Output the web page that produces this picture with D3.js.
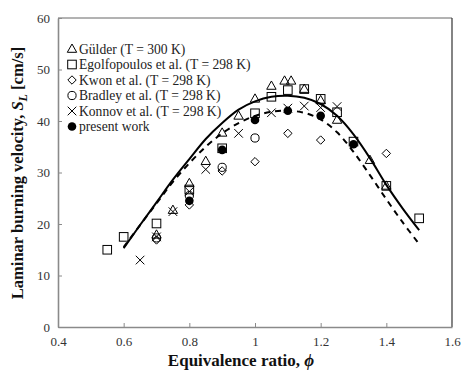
<!DOCTYPE html>
<html>
<head>
<meta charset="utf-8">
<script src="https://cdn.jsdelivr.net/npm/d3@7"></script>
<style>
  body { margin: 0; background: #fff; }
  svg { display: block; font-family: "Liberation Serif", "Times New Roman", serif; }
</style>
</head>
<body>
<svg id="chart" width="461" height="371"></svg>
<script>
// data: [phi, S_L]
var gulder = [[0.7, 17.9], [0.75, 22.7], [0.8, 27.9], [0.85, 32.2], [0.9, 37.7], [0.95, 41.0], [1.0, 44.3],
  [1.05, 46.8], [1.09, 47.8], [1.11, 47.8], [1.15, 46.2], [1.2, 44.0], [1.25, 40.2], [1.35, 32.4], [1.4, 27.4]];
var egolfopoulos = [[0.55, 15.0], [0.6, 17.5], [0.7, 20.1], [0.8, 26.7], [0.9, 34.7], [1.0, 41.5], [1.05, 44.7],
  [1.1, 46.0], [1.15, 46.2], [1.2, 44.3], [1.25, 41.7], [1.3, 36.0], [1.4, 27.4], [1.5, 21.1]];
var kwon = [[0.7, 16.9], [0.8, 23.7], [0.9, 30.3], [1.0, 32.1], [1.1, 37.6], [1.2, 36.3], [1.4, 33.7]];
var bradley = [[0.7, 17.3], [0.8, 25.5], [0.9, 31.0], [1.0, 36.7]];
var konnov = [[0.65, 13.0], [0.7, 17.5], [0.75, 22.4], [0.8, 26.3], [0.85, 30.6], [0.95, 37.6], [1.05, 41.6],
  [1.1, 42.5], [1.15, 42.9], [1.2, 42.6], [1.25, 42.8]];
var presentWork = [[0.8, 24.5], [0.9, 34.4], [1.0, 40.2], [1.1, 42.0], [1.2, 41.0], [1.3, 35.5]];

var solidCurve = [[0.6, 15.3], [0.65, 19.8], [0.7, 24.2], [0.75, 28.6], [0.8, 32.6], [0.85, 36.5], [0.9, 39.6],
  [0.95, 42.2], [1.0, 43.8], [1.05, 44.7], [1.1, 44.9], [1.15, 44.5], [1.2, 43.3], [1.25, 41.0], [1.3, 37.4],
  [1.35, 32.8], [1.4, 27.6], [1.45, 23.0], [1.5, 18.8]];
var dashedCurve = [[0.6, 15.5], [0.65, 19.8], [0.7, 24.0], [0.75, 28.2], [0.8, 31.8], [0.85, 35.0], [0.9, 37.6],
  [0.95, 39.6], [1.0, 41.0], [1.05, 41.8], [1.1, 42.0], [1.15, 41.6], [1.2, 40.3], [1.25, 37.8], [1.3, 34.0],
  [1.35, 29.5], [1.4, 24.8], [1.45, 20.3], [1.5, 16.1]];

var xTicks = [0.4, 0.6, 0.8, 1, 1.2, 1.4, 1.6];
var yTicks = [0, 10, 20, 30, 40, 50, 60];

var legendLabels = ['Gülder (T = 300 K)', 'Egolfopoulos et al. (T = 298 K)', 'Kwon et al. (T = 298 K)',
  'Bradley et al. (T = 298 K)', 'Konnov et al. (T = 298 K)', 'present work'];

(function () {
  var svg = d3.select('#chart');
  var left = 58, right = 452, top = 18, bottom = 327;

  var x = d3.scaleLinear().domain([0.4, 1.6]).range([left, right]);
  var y = d3.scaleLinear().domain([0, 60]).range([bottom, top]);

  // frame
  svg.append('line').attr('x1', left).attr('x2', right).attr('y1', top).attr('y2', top)
    .attr('stroke', '#666').attr('stroke-width', 1);
  svg.append('line').attr('x1', right).attr('x2', right).attr('y1', top).attr('y2', bottom)
    .attr('stroke', '#333').attr('stroke-width', 1.2);

  var xAxis = svg.append('g')
    .attr('transform', 'translate(0,' + bottom + ')')
    .call(d3.axisBottom(x).tickValues(xTicks).tickSizeInner(-4).tickSizeOuter(0).tickPadding(10)
      .tickFormat(function (d) { return d3.format('')(+d.toFixed(1)); }));
  var yAxis = svg.append('g')
    .attr('transform', 'translate(' + left + ',0)')
    .call(d3.axisLeft(y).tickValues(yTicks).tickSizeInner(-4).tickSizeOuter(0).tickPadding(8));

  [xAxis, yAxis].forEach(function (g) {
    g.select('.domain').attr('stroke', '#8a8a8a').attr('stroke-width', 1.6);
    g.selectAll('.tick line').attr('stroke', '#8a8a8a');
    g.selectAll('.tick text').attr('font-family', '"Liberation Serif", serif')
      .attr('font-size', 13).attr('fill', '#333');
  });

  // curves
  var line = d3.line()
    .x(function (d) { return x(d[0]); })
    .y(function (d) { return y(d[1]); })
    .curve(d3.curveCatmullRom);

  svg.append('path').datum(dashedCurve).attr('d', line)
    .attr('fill', 'none').attr('stroke', '#000').attr('stroke-width', 2)
    .attr('stroke-dasharray', '6,5');
  svg.append('path').datum(solidCurve).attr('d', line)
    .attr('fill', 'none').attr('stroke', '#000').attr('stroke-width', 2);

  // marker drawing
  function drawMarker(g, kind, cx, cy) {
    if (kind === 'triangle') {
      g.append('path').attr('d', 'M' + cx + ',' + (cy - 5) + 'L' + (cx + 4.7) + ',' + (cy + 3.3) +
        'L' + (cx - 4.7) + ',' + (cy + 3.3) + 'Z')
        .attr('fill', 'none').attr('stroke', '#000').attr('stroke-width', 1);
    } else if (kind === 'square') {
      g.append('rect').attr('x', cx - 4.3).attr('y', cy - 4.3).attr('width', 8.6).attr('height', 8.6)
        .attr('fill', 'none').attr('stroke', '#000').attr('stroke-width', 1);
    } else if (kind === 'diamond') {
      g.append('path').attr('d', 'M' + cx + ',' + (cy - 4.2) + 'L' + (cx + 4.2) + ',' + cy +
        'L' + cx + ',' + (cy + 4.2) + 'L' + (cx - 4.2) + ',' + cy + 'Z')
        .attr('fill', 'none').attr('stroke', '#000').attr('stroke-width', 1);
    } else if (kind === 'circle') {
      g.append('circle').attr('cx', cx).attr('cy', cy).attr('r', 4.1)
        .attr('fill', 'none').attr('stroke', '#000').attr('stroke-width', 1);
    } else if (kind === 'cross') {
      g.append('path').attr('d', 'M' + (cx - 4.3) + ',' + (cy - 4.3) + 'L' + (cx + 4.3) + ',' + (cy + 4.3) +
        'M' + (cx + 4.3) + ',' + (cy - 4.3) + 'L' + (cx - 4.3) + ',' + (cy + 4.3))
        .attr('fill', 'none').attr('stroke', '#000').attr('stroke-width', 1);
    } else {
      g.append('circle').attr('cx', cx).attr('cy', cy).attr('r', 4.3).attr('fill', '#000');
    }
  }

  var series = [
    { data: gulder, kind: 'triangle' },
    { data: egolfopoulos, kind: 'square' },
    { data: kwon, kind: 'diamond' },
    { data: bradley, kind: 'circle' },
    { data: konnov, kind: 'cross' },
    { data: presentWork, kind: 'filled' }
  ];

  var pts = svg.append('g');
  series.forEach(function (s) {
    s.data.forEach(function (d) {
      drawMarker(pts, s.kind, x(d[0]), y(d[1]));
    });
  });

  // legend
  var legend = svg.append('g');
  series.forEach(function (s, i) {
    var ly = 49 + i * 15.5;
    drawMarker(legend, s.kind, 72, ly);
    legend.append('text').attr('x', 79).attr('y', ly + 4.5)
      .attr('font-size', 13.6).attr('fill', '#222').text(legendLabels[i]);
  });

  // axis titles
  var xt = svg.append('text').attr('x', 241).attr('y', 366).attr('text-anchor', 'middle')
    .attr('font-size', 17).attr('font-weight', 'bold').attr('fill', '#111');
  xt.append('tspan').text('Equivalence ratio, ');
  xt.append('tspan').attr('font-style', 'italic').text('ϕ');

  var yt = svg.append('text').attr('transform', 'translate(23,173) rotate(-90)')
    .attr('text-anchor', 'middle').attr('font-size', 16.5).attr('font-weight', 'bold').attr('fill', '#111');
  yt.append('tspan').text('Laminar burning velocity, ');
  yt.append('tspan').attr('font-style', 'italic').text('S');
  yt.append('tspan').attr('font-style', 'italic').attr('font-size', 12).attr('dy', 4).text('L');
  yt.append('tspan').attr('dy', -4).text(' [cm/s]');
})();
</script>
</body>
</html>
